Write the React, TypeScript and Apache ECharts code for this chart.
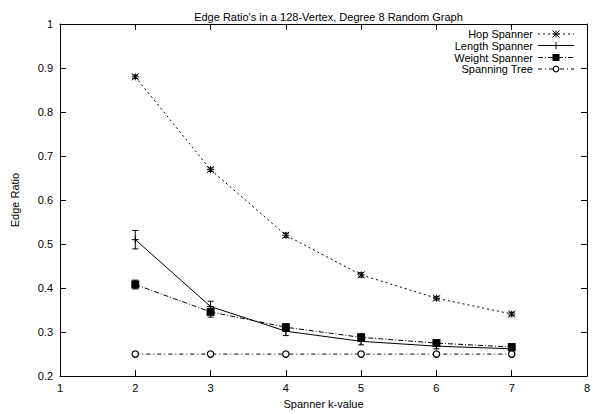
import React, { useEffect, useRef } from "react";
import * as echarts from "echarts";

const kValues = [2, 3, 4, 5, 6, 7];
const hopValues = [0.88, 0.669, 0.52, 0.43, 0.377, 0.341];
const hopErr = [0.004, 0.004, 0.005, 0.005, 0.004, 0.004];
const lengthValues = [0.51, 0.358, 0.302, 0.279, 0.268, 0.262];
const lengthErr = [0.021, 0.012, 0.01, 0.008, 0.006, 0.005];
const weightValues = [0.408, 0.346, 0.311, 0.288, 0.275, 0.266];
const weightErr = [0.01, 0.012, 0.008, 0.008, 0.006, 0.005];
const treeValues = [0.25, 0.25, 0.25, 0.25, 0.25, 0.25];
const treeErr = [0, 0, 0, 0, 0, 0];
const seriesNames = ["Hop Spanner", "Length Spanner", "Weight Spanner", "Spanning Tree"];
const xTicks = { min: 1, max: 8, interval: 1 };
const yTicks = { min: 0.2, max: 1, interval: 0.1 };
const titleText = "Edge Ratio's in a 128-Vertex, Degree 8 Random Graph";

const FONT = "'Liberation Sans', Arial, Helvetica, sans-serif";
const BLACK = "#000";

type Kind = "star" | "plus" | "square" | "circle";

function marker(kind: Kind, cx: number, cy: number, small = false): any[] {
  const st = { stroke: BLACK, lineWidth: 1, fill: null };
  const s = 3.5;
  if (kind === "star") {
    return [
      { type: "line", shape: { x1: cx - s, y1: cy, x2: cx + s, y2: cy }, style: st },
      { type: "line", shape: { x1: cx, y1: cy - s, x2: cx, y2: cy + s }, style: st },
      { type: "line", shape: { x1: cx - s, y1: cy - s, x2: cx + s, y2: cy + s }, style: st },
      { type: "line", shape: { x1: cx - s, y1: cy + s, x2: cx + s, y2: cy - s }, style: st },
    ];
  }
  if (kind === "plus") {
    return [
      { type: "line", shape: { x1: cx - s, y1: cy, x2: cx + s, y2: cy }, style: st },
      { type: "line", shape: { x1: cx, y1: cy - s, x2: cx, y2: cy + s }, style: st },
    ];
  }
  if (kind === "square") {
    const h = small ? 3.5 : 4;
    return [{ type: "rect", shape: { x: cx - h, y: cy - h, width: 2 * h, height: 2 * h }, style: { fill: BLACK } }];
  }
  return [{ type: "circle", shape: { cx, cy, r: small ? 2.8 : 3.2 }, style: { stroke: BLACK, lineWidth: 1.2, fill: "#fff" } }];
}

const defs: { name: string; values: number[]; err: number[]; dash: any; kind: Kind }[] = [
  { name: seriesNames[0], values: hopValues, err: hopErr, dash: [2, 3], kind: "star" },
  { name: seriesNames[1], values: lengthValues, err: lengthErr, dash: "solid", kind: "plus" },
  { name: seriesNames[2], values: weightValues, err: weightErr, dash: [5, 2, 1, 2], kind: "square" },
  { name: seriesNames[3], values: treeValues, err: treeErr, dash: [4, 3, 1, 3], kind: "circle" },
];

export default function App() {
  const ref = useRef<HTMLDivElement>(null);
  useEffect(() => {
    if (!ref.current) return;
    const chart = echarts.init(ref.current, undefined, { renderer: "svg" });

    const series: any[] = [];
    defs.forEach((d) => {
      series.push({
        type: "line",
        name: d.name,
        data: kValues.map((k, i) => [k, d.values[i]]),
        symbol: "none",
        lineStyle: { color: BLACK, width: 1, type: d.dash },
        xAxisIndex: 0,
        yAxisIndex: 0,
        z: 2,
      });
      series.push({
        type: "custom",
        name: d.name + " markers",
        xAxisIndex: 0,
        yAxisIndex: 0,
        data: kValues.map((k, i) => [k, d.values[i], d.values[i] - d.err[i], d.values[i] + d.err[i]]),
        encode: { x: 0, y: [1, 2, 3] },
        z: 3,
        renderItem: (params: any, api: any) => {
          const x = api.value(0);
          const y = api.value(1);
          const lo = api.value(2);
          const hi = api.value(3);
          const p = api.coord([x, y]);
          const pl = api.coord([x, lo]);
          const ph = api.coord([x, hi]);
          const children: any[] = [];
          const st = { stroke: BLACK, lineWidth: 1 };
          if (hi > lo) {
            children.push({ type: "line", shape: { x1: p[0], y1: pl[1], x2: p[0], y2: ph[1] }, style: st });
            children.push({ type: "line", shape: { x1: p[0] - 3, y1: pl[1], x2: p[0] + 3, y2: pl[1] }, style: st });
            children.push({ type: "line", shape: { x1: p[0] - 3, y1: ph[1], x2: p[0] + 3, y2: ph[1] }, style: st });
          }
          marker(d.kind, p[0], p[1]).forEach((m) => children.push(m));
          return { type: "group", children };
        },
      });
    });

    // legend graphics
    const legendRows = [34, 45.5, 57.5, 69];
    const legendGraphics: any[] = [];
    defs.forEach((d, i) => {
      const y = legendRows[i];
      legendGraphics.push({
        type: "text",
        x: 533,
        y,
        style: { text: d.name, fill: BLACK, font: `11px ${FONT}`, textAlign: "right", textVerticalAlign: "middle" },
      });
      legendGraphics.push({
        type: "line",
        shape: { x1: 538, y1: y, x2: 574, y2: y },
        style: { stroke: BLACK, lineWidth: 1, lineDash: d.dash === "solid" ? null : d.dash },
      });
      marker(d.kind, 556, y, true).forEach((m) => legendGraphics.push(m));
    });

    const axisCommon = {
      type: "value",
      axisLine: { show: true, onZero: false, lineStyle: { color: BLACK, width: 1 } },
      axisTick: { show: true, inside: true, length: 6, lineStyle: { color: BLACK, width: 1 } },
      splitLine: { show: false },
    };

    chart.setOption({
      animation: false,
      textStyle: { fontFamily: FONT },
      title: {
        text: titleText,
        left: 323.5,
        top: 6,
        textAlign: "center",
        textStyle: { fontSize: 11, fontWeight: "normal", color: BLACK, fontFamily: FONT },
      },
      grid: { left: 60, right: 11, top: 24, bottom: 36, containLabel: false },
      xAxis: [
        {
          ...axisCommon,
          position: "bottom",
          min: xTicks.min,
          max: xTicks.max,
          interval: xTicks.interval,
          axisLabel: { color: BLACK, fontSize: 11, margin: 6, fontFamily: FONT },
          name: "Spanner k-value",
          nameLocation: "middle",
          nameGap: 14,
          nameTextStyle: { color: BLACK, fontSize: 11, fontFamily: FONT },
        },
        {
          ...axisCommon,
          position: "top",
          min: xTicks.min,
          max: xTicks.max,
          interval: xTicks.interval,
          axisLabel: { show: false },
        },
      ],
      yAxis: [
        {
          ...axisCommon,
          position: "left",
          min: yTicks.min,
          max: yTicks.max,
          interval: yTicks.interval,
          axisLabel: {
            color: BLACK,
            fontSize: 11,
            margin: 7,
            fontFamily: FONT,
            formatter: (v: number) => String(Math.round(v * 10) / 10),
          },
          name: "Edge Ratio",
          nameLocation: "middle",
          nameRotate: 90,
          nameGap: 40,
          nameTextStyle: { color: BLACK, fontSize: 11, fontFamily: FONT },
        },
        {
          ...axisCommon,
          position: "right",
          min: yTicks.min,
          max: yTicks.max,
          interval: yTicks.interval,
          axisLabel: { show: false },
        },
      ],
      graphic: legendGraphics,
      series,
    });
    return () => chart.dispose();
  }, []);
  return (
    <div
      ref={ref}
      style={{ position: "fixed", left: 0, top: 0, width: 598, height: 414, background: "#fff" }}
    />
  );
}
